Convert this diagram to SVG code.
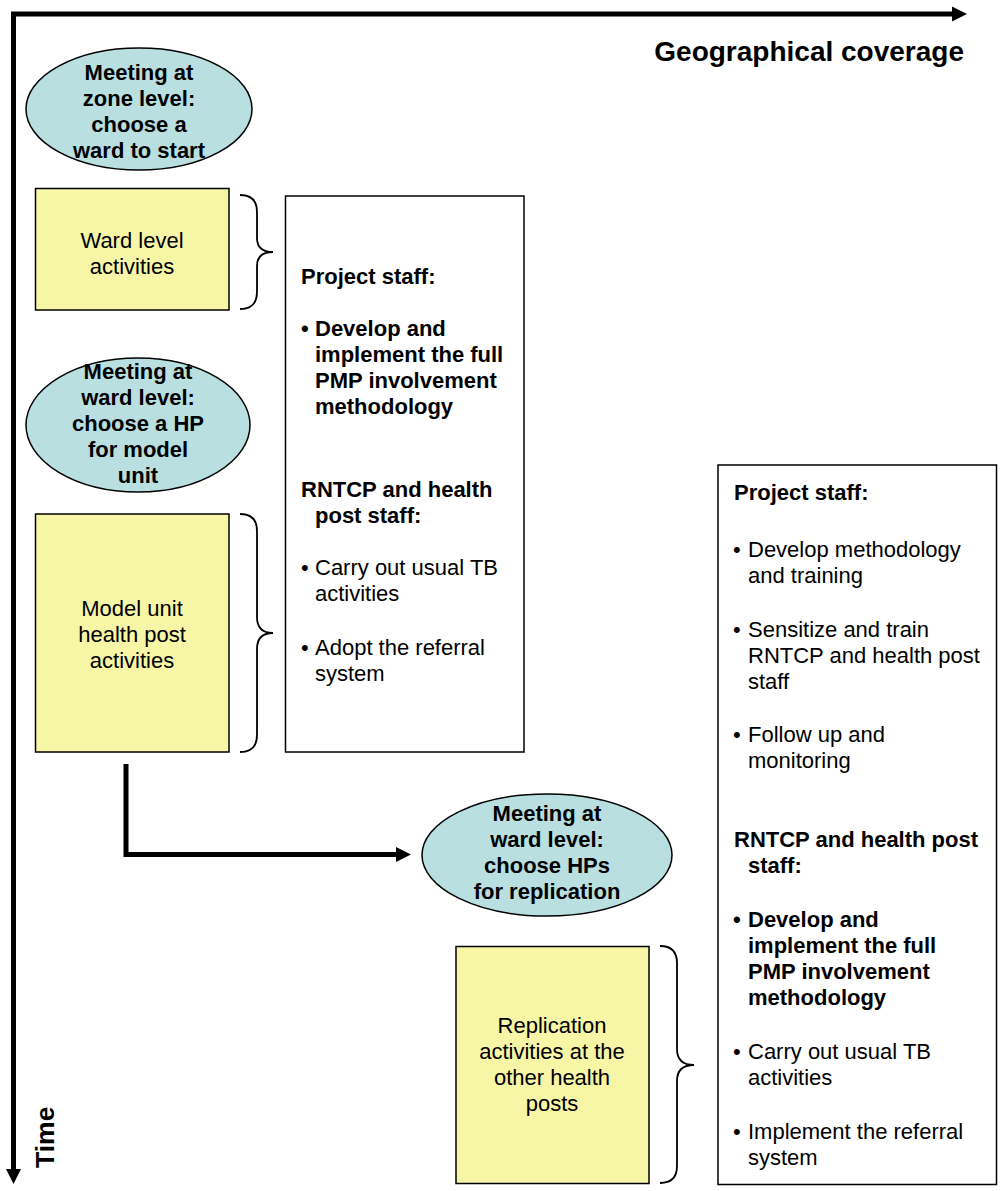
<svg xmlns="http://www.w3.org/2000/svg" width="1004" height="1191" viewBox="0 0 1004 1191">
<style>
text{font-family:"Liberation Sans",Arial,sans-serif;font-size:22px;fill:#000}
.b{font-weight:bold}
.c{text-anchor:middle}
.ell{fill:#B9DFE1;stroke:#000;stroke-width:1.5}
.yel{fill:#F6F6A6;stroke:#000;stroke-width:1.5}
.wb{fill:#fff;stroke:#000;stroke-width:1.5}
.brace{fill:none;stroke:#000;stroke-width:1.8}
.ax{fill:none;stroke:#000;stroke-width:5}
</style>
<defs>
<marker id="ah" markerUnits="userSpaceOnUse" markerWidth="16" markerHeight="16" refX="1" refY="8" orient="auto" viewBox="0 0 16 16">
<path d="M0,0.5 L15,8 L0,15.5 Z" fill="#000"/>
</marker>
</defs>
<rect width="1004" height="1191" fill="#fff"/>
<g id="axes">
<path class="ax" d="M13.5,1172 L13.5,14 L953,14" marker-end="url(#ah)"/>
<path class="ax" d="M13.5,20 L13.5,1170" marker-end="url(#ah)"/>
<text class="b" x="964" y="61" text-anchor="end" style="font-size:28px">Geographical coverage</text>
<text class="b" transform="translate(54,1168) rotate(-90)" style="font-size:26.5px">Time</text>
</g>
<g id="connectors">
<path class="ax" d="M126,764 L126,854.5 L397,854.5" marker-end="url(#ah)"/>
<path class="brace" d="M240,195 Q257,195 257,212 L257,238 Q257,252 273,252 Q257,252 257,266 L257,292 Q257,309 240,309"/>
<path class="brace" d="M240,514 Q257,514 257,531 L257,617 Q257,633 273,633 Q257,633 257,649 L257,735 Q257,752 240,752"/>
<path class="brace" d="M660,946 Q677,946 677,963 L677,1049 Q677,1065 694,1065 Q677,1065 677,1081 L677,1166 Q677,1183 660,1183"/>
</g>
<g id="meet-zone">
<ellipse class="ell" cx="139" cy="109" rx="113" ry="61"/>
<text class="b c" x="139" y="80">Meeting at</text>
<text class="b c" x="139" y="106">zone level:</text>
<text class="b c" x="139" y="132">choose a</text>
<text class="b c" x="139" y="158">ward to start</text>
</g>
<g id="ward-activities">
<rect class="yel" x="35.5" y="188.5" width="193.5" height="121.5"/>
<text class="c" x="132" y="248">Ward level</text>
<text class="c" x="132" y="274">activities</text>
</g>
<g id="staff-box-1">
<rect class="wb" x="285.5" y="196" width="238.5" height="556"/>
<text class="b" x="301" y="284">Project staff:</text>
<text class="b" x="301" y="336">•</text>
<text class="b" x="315" y="336">Develop and</text>
<text class="b" x="315" y="362">implement the full</text>
<text class="b" x="315" y="388">PMP involvement</text>
<text class="b" x="315" y="414">methodology</text>
<text class="b" x="301" y="497">RNTCP and health</text>
<text class="b" x="315" y="523">post staff:</text>
<text x="301" y="575">•</text>
<text x="315" y="575">Carry out usual TB</text>
<text x="315" y="601">activities</text>
<text x="301" y="655">•</text>
<text x="315" y="655">Adopt the referral</text>
<text x="315" y="681">system</text>
</g>
<g id="meet-ward-model">
<ellipse class="ell" cx="138" cy="425" rx="112" ry="67"/>
<text class="b c" x="138" y="379">Meeting at</text>
<text class="b c" x="138" y="405">ward level:</text>
<text class="b c" x="138" y="431">choose a HP</text>
<text class="b c" x="138" y="457">for model</text>
<text class="b c" x="138" y="483">unit</text>
</g>
<g id="model-unit">
<rect class="yel" x="35.5" y="514" width="193.5" height="238"/>
<text class="c" x="132" y="616">Model unit</text>
<text class="c" x="132" y="642">health post</text>
<text class="c" x="132" y="668">activities</text>
</g>
<g id="meet-ward-replication">
<ellipse class="ell" cx="547" cy="855" rx="125" ry="61"/>
<text class="b c" x="547" y="821">Meeting at</text>
<text class="b c" x="547" y="847">ward level:</text>
<text class="b c" x="547" y="873">choose HPs</text>
<text class="b c" x="547" y="899">for replication</text>
</g>
<g id="replication">
<rect class="yel" x="456" y="946.5" width="193" height="237"/>
<text class="c" x="552" y="1033">Replication</text>
<text class="c" x="552" y="1059">activities at the</text>
<text class="c" x="552" y="1085">other health</text>
<text class="c" x="552" y="1111">posts</text>
</g>
<g id="staff-box-2">
<rect class="wb" x="718" y="465" width="278.5" height="719.5"/>
<text class="b" x="734" y="500">Project staff:</text>
<text x="733" y="557">•</text>
<text x="748" y="557">Develop methodology</text>
<text x="748" y="583">and training</text>
<text x="733" y="637">•</text>
<text x="748" y="637">Sensitize and train</text>
<text x="748" y="663">RNTCP and health post</text>
<text x="748" y="689">staff</text>
<text x="733" y="742">•</text>
<text x="748" y="742">Follow up and</text>
<text x="748" y="768">monitoring</text>
<text class="b" x="734" y="847">RNTCP and health post</text>
<text class="b" x="748" y="873">staff:</text>
<text class="b" x="733" y="927">•</text>
<text class="b" x="748" y="927">Develop and</text>
<text class="b" x="748" y="953">implement the full</text>
<text class="b" x="748" y="979">PMP involvement</text>
<text class="b" x="748" y="1005">methodology</text>
<text x="733" y="1059">•</text>
<text x="748" y="1059">Carry out usual TB</text>
<text x="748" y="1085">activities</text>
<text x="733" y="1139">•</text>
<text x="748" y="1139">Implement the referral</text>
<text x="748" y="1165">system</text>
</g>
</svg>
